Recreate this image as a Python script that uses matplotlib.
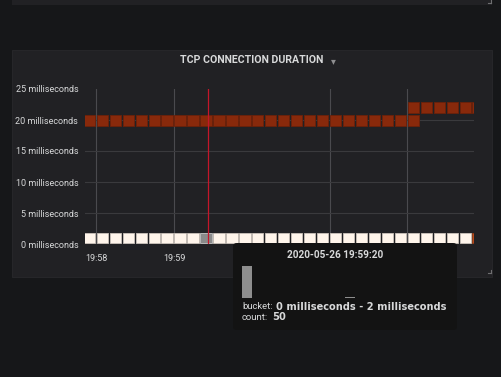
import matplotlib.pyplot as plt
import matplotlib.dates as mdates
import pandas as pd
from matplotlib.patches import Rectangle, FancyBboxPatch
from matplotlib.colors import LinearSegmentedColormap, Normalize
from matplotlib.lines import Line2D

# ---- data -------------------------------------------------------------
times = pd.date_range('2020-05-26 19:57:50', '2020-05-26 20:02:50', freq='10s')

bucket_low = [0, 19, 21]
bucket_high = [2, 21, 23]

counts_0_2 = [50, 50, 50, 50, 50, 50, 50, 50, 50, 50,
              50, 50, 50, 50, 50, 50, 50, 50, 50, 50,
              50, 50, 50, 50, 50, 50, 50, 50, 50, 50, 12]
counts_19_21 = [1, 1, 1, 1, 1, 1, 1, 1, 1, 1,
                1, 1, 1, 1, 1, 1, 1, 1, 1, 1,
                1, 1, 1, 1, 1, 1, 0, 0, 0, 0, 0]
counts_21_23 = [0, 0, 0, 0, 0, 0, 0, 0, 0, 0,
                0, 0, 0, 0, 0, 0, 0, 0, 0, 0,
                0, 0, 0, 0, 0, 1, 1, 1, 1, 1, 1]
counts = [counts_0_2, counts_19_21, counts_21_23]

y_ticks = [0, 5, 10, 15, 20, 25]
x_ticks = ['2020-05-26 19:58', '2020-05-26 19:59', '2020-05-26 20:01', '2020-05-26 20:02']
x_labels = ['19:58', '19:59', '', '']   # the later ones sit under the tooltip
x_range = ['2020-05-26 19:57:51.5', '2020-05-26 20:02:51.5']

hover_time = pd.Timestamp('2020-05-26 19:59:20')
hover_bucket = 0
crosshair_time = pd.Timestamp('2020-05-26 19:59:26')

# ---- style ------------------------------------------------------------
W, H = 502, 377
PAGE = '#161719'
PANEL = '#212124'
TEXT = '#d8d9da'
FAM = ['Roboto', 'DejaVu Sans']
plt.rcParams['font.family'] = FAM


def fx(x):
    return x / W


def fy(y):
    return 1 - y / H


fig = plt.figure(figsize=(W / 100, H / 100), dpi=100, facecolor=PAGE)

# panels (one above is only just visible)
fig.add_artist(Rectangle((fx(12), fy(5)), fx(480), 5 / H, transform=fig.transFigure,
                         facecolor=PANEL, edgecolor='none', zorder=-2))
fig.add_artist(Rectangle((fx(12), fy(277)), fx(480), 227 / H, transform=fig.transFigure,
                         facecolor=PANEL, edgecolor='#29292c', lw=0.6, zorder=-2))
for (xc, yc) in [(491, 3), (491, 273)]:
    fig.add_artist(Line2D([fx(xc), fx(xc)], [fy(yc - 3), fy(yc)], color='#6e6e70', lw=0.8))
    fig.add_artist(Line2D([fx(xc - 3), fx(xc)], [fy(yc), fy(yc)], color='#6e6e70', lw=0.8))

fig.text(fx(251.5), fy(60), 'TCP CONNECTION DURATION', color=TEXT, fontsize=7.6,
         fontweight='bold', ha='center', va='center')
fig.text(fx(333), fy(61), '\u25be', color='#8e8e90', fontsize=7, ha='center', va='center',
         family=['DejaVu Sans'])

# ---- heatmap ----------------------------------------------------------
ax = fig.add_axes([fx(85.3), fy(244), 388.75 / W, 155 / H])
ax.set_facecolor('none')

cmap = LinearSegmentedColormap.from_list('heat', ['#88290b', '#cf5b26', '#f6a86a', '#fff5eb'])
norm = Normalize(vmin=1, vmax=50)
sec = 1 / 86400.0

for b, row in enumerate(counts):
    for t, c in zip(times, row):
        if c == 0:
            continue
        col = cmap(norm(c))
        edge = tuple(v * 0.8 for v in col[:3])
        if t == hover_time and b == hover_bucket:
            col, edge = '#8a8a8a', '#c9c9c9'
        ax.bar(mdates.date2num(t) + 0.3 * sec, bucket_high[b] - bucket_low[b] - 0.25,
               width=8.7 * sec, bottom=bucket_low[b] + 0.1, align='edge',
               color=col, edgecolor=edge, linewidth=0.6, zorder=3)

ax.axvline(mdates.date2num(crosshair_time), color='#c4162a', lw=0.9, zorder=4)

ax.set_xlim(mdates.date2num(pd.Timestamp(x_range[0])), mdates.date2num(pd.Timestamp(x_range[1])))
ax.set_ylim(0, 25)
ax.set_xticks([mdates.date2num(pd.Timestamp(t)) for t in x_ticks])
ax.set_xticklabels(x_labels)
ax.set_yticks(y_ticks)
ax.set_yticklabels([f'{v} milliseconds' for v in y_ticks])
ax.tick_params(length=0, labelsize=6.5, colors=TEXT, pad=5)
ax.tick_params(axis='x', pad=7)
ax.grid(axis='x', color='#4a4a4e', lw=0.8, zorder=1)
ax.grid(axis='y', color='#3a3a3d', lw=0.8, zorder=1)
ygl = ax.get_ygridlines()
ygl[0].set_visible(False)
ygl[-1].set_visible(False)
for s in ax.spines.values():
    s.set_visible(False)

# ---- tooltip ----------------------------------------------------------
fig.add_artist(FancyBboxPatch((fx(233), fy(330)), fx(224), 87 / H, transform=fig.transFigure,
                              boxstyle='round,pad=0,rounding_size=0.008',
                              facecolor='#131313', edgecolor='none', zorder=5))
fig.text(fx(335), fy(255), hover_time.strftime('%Y-%m-%d %H:%M:%S'), color=TEXT,
         fontsize=7.2, fontweight='bold', ha='center', va='center', zorder=6)

hover_idx = list(times).index(hover_time)
tt = fig.add_axes([fx(242), fy(298), 150 / W, 32 / H], zorder=7)
tt.set_facecolor('none')
tt.bar(bucket_low, [row[hover_idx] for row in counts], width=1.85, align='edge', color='#8e8e8e')
tt.set_xlim(0, 150 / 5.42)
tt.set_ylim(0, 50)
tt.axis('off')

lo, hi = bucket_low[hover_bucket], bucket_high[hover_bucket]
fig.text(fx(242), fy(306.5), 'bucket:', color=TEXT, fontsize=6.8, ha='left', va='center', zorder=6)
fig.text(fx(276.5), fy(306.5), f'{lo} milliseconds - {hi} milliseconds', color=TEXT,
         fontsize=7.1, fontweight='bold', ha='left', va='center', zorder=6,
         family=['DejaVu Sans'])
fig.text(fx(242), fy(317.5), 'count:', color=TEXT, fontsize=6.8, ha='left', va='center', zorder=6)
fig.text(fx(272.3), fy(317.5), str(counts[hover_bucket][hover_idx]), color=TEXT,
         fontsize=7.1, fontweight='bold', ha='left', va='center', zorder=6,
         family=['DejaVu Sans'])

fig.savefig('out.png', dpi=100, facecolor=PAGE)
